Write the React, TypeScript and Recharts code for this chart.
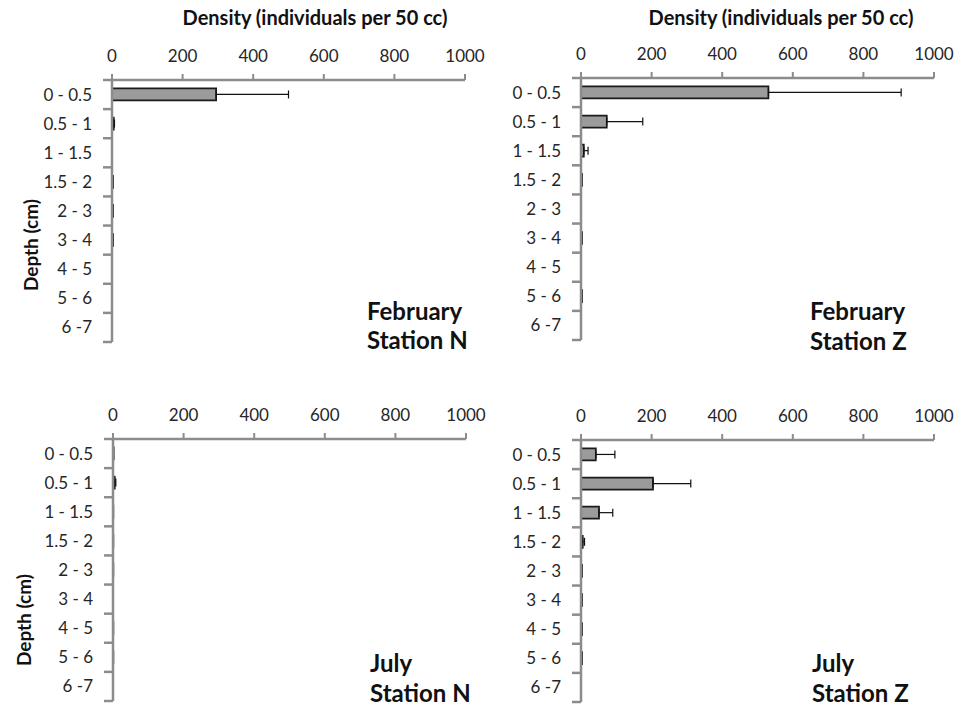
import React from "react";
import { BarChart, Bar, XAxis, YAxis, ErrorBar } from "recharts";

// ---- data ----
const depths = ["0 - 0.5", "0.5 - 1", "1 - 1.5", "1.5 - 2", "2 - 3", "3 - 4", "4 - 5", "5 - 6", "6 -7"];
const densityTicks = [0, 200, 400, 600, 800, 1000];

const febNValues = [295, 5, 0, 3, 3, 3, 0, 0, 0];
const febNErrors = [205, 2, 0, 0, 0, 0, 0, 0, 0];

const febZValues = [531, 73, 8, 3, 0, 3, 0, 3, 0];
const febZErrors = [376, 102, 12, 0, 0, 0, 0, 0, 0];

const julNValues = [2, 5, 1, 1, 1, 0, 1, 1, 0];
const julNErrors = [0, 3, 0, 0, 0, 0, 0, 0, 0];

const julZValues = [42, 204, 51, 5, 3, 3, 3, 3, 0];
const julZErrors = [54, 107, 39, 5, 0, 0, 0, 0, 0];

const axisTitle = "Density (individuals per 50 cc)";
const depthTitle = "Depth (cm)";

// ---- style ----
const FONT = "Lato, 'Open Sans', sans-serif";
const AXIS = "#8c8c8c";
const TEXT = "#262626";
const PLOT_W = 353;
const PLOT_H = 262;
const Y_W = 92;
const X_H = 40;
const Y_TICK_SIZE = 6;
const Y_TICK_MARGIN = 14;

function DepthTick(props: any) {
  const { x, y, payload, index } = props;
  const px = Number(x);
  const py = Number(y);
  const axisX = px + Y_TICK_SIZE + Y_TICK_MARGIN;
  const band = PLOT_H / depths.length;
  const top = py - band / 2;
  const bottom = py + band / 2;
  return (
    <g>
      <path d={`M${axisX - 9},${top}H${axisX}`} stroke={AXIS} strokeWidth={2.5} fill="none" />
      {index === depths.length - 1 ? (
        <path d={`M${axisX - 9},${bottom}H${axisX}`} stroke={AXIS} strokeWidth={2.5} fill="none" />
      ) : null}
      <text x={px} y={py} dy="0.35em" textAnchor="end" fill={TEXT} fontSize={17} fontFamily={FONT}>
        {payload.value}
      </text>
    </g>
  );
}

function Panel({ values, errors, left, top }: { values: number[]; errors: number[]; left: number; top: number }) {
  const rows = depths.map((d, i) => ({ depth: d, density: values[i], err: errors[i] }));
  return (
    <div style={{ position: "absolute", left, top }}>
      <BarChart
        width={Y_W + PLOT_W + 21}
        height={X_H + PLOT_H + 6}
        layout="vertical"
        data={rows}
        margin={{ top: 0, right: 21, bottom: 6, left: 0 }}
        barCategoryGap="29%"
        style={{ overflow: "visible" }}
      >
        <XAxis
          type="number"
          orientation="top"
          domain={[0, 1000]}
          ticks={densityTicks}
          interval={0}
          height={X_H}
          allowDataOverflow
          tick={{ fill: TEXT, fontSize: 17, fontFamily: FONT }}
          tickSize={6}
          tickMargin={12}
          axisLine={{ stroke: AXIS, strokeWidth: 2.5 }}
          tickLine={{ stroke: AXIS, strokeWidth: 2 }}
        />
        <YAxis
          type="category"
          dataKey="depth"
          width={Y_W}
          interval={0}
          tickSize={Y_TICK_SIZE}
          tickMargin={Y_TICK_MARGIN}
          tickLine={false}
          axisLine={{ stroke: AXIS, strokeWidth: 2.5 }}
          tick={(p: any) => <DepthTick {...p} />}
        />
        <Bar dataKey="density" fill="#9b9b9b" stroke="#1a1a1a" strokeWidth={1.7} isAnimationActive={false}>
          <ErrorBar
            dataKey={(r: any) => (r.err > 0 ? [0, r.err] : null)}
            direction="x"
            width={4}
            stroke="#111"
            strokeWidth={1.2}
            isAnimationActive={false}
          />
        </Bar>
      </BarChart>
    </div>
  );
}

const labelStyle = { fontFamily: FONT, fontWeight: 700, fill: "#111" } as const;

export default function App() {
  return (
    <div style={{ position: "absolute", left: 0, top: 0, width: 956, height: 708, overflow: "hidden", background: "#fff" }}>
      <Panel values={febNValues} errors={febNErrors} left={112 - Y_W} top={80 - X_H} />
      <Panel values={febZValues} errors={febZErrors} left={581 - Y_W} top={78 - X_H} />
      <Panel values={julNValues} errors={julNErrors} left={113 - Y_W} top={439 - X_H} />
      <Panel values={julZValues} errors={julZErrors} left={581 - Y_W} top={440 - X_H} />
      <svg width={956} height={708} style={{ position: "absolute", left: 0, top: 0, pointerEvents: "none" }}>
        <text x={315} y={25} textAnchor="middle" fontSize={20} {...labelStyle}>{axisTitle}</text>
        <text x={781} y={25} textAnchor="middle" fontSize={20} {...labelStyle}>{axisTitle}</text>
        <text x={31} y={245} dy="0.35em" textAnchor="middle" fontSize={19} transform="rotate(-90 31 245)" {...labelStyle}>{depthTitle}</text>
        <text x={24} y={620} dy="0.35em" textAnchor="middle" fontSize={19} transform="rotate(-90 24 620)" {...labelStyle}>{depthTitle}</text>

        <text x={367} y={320} fontSize={24} {...labelStyle}>February</text>
        <text x={367} y={349} fontSize={24} {...labelStyle}>Station N</text>
        <text x={810} y={320} fontSize={24} {...labelStyle}>February</text>
        <text x={810} y={350} fontSize={24} {...labelStyle}>Station Z</text>
        <text x={370} y={672} fontSize={24} {...labelStyle}>July</text>
        <text x={370} y={702} fontSize={24} {...labelStyle}>Station N</text>
        <text x={812} y={672} fontSize={24} {...labelStyle}>July</text>
        <text x={812} y={702} fontSize={24} {...labelStyle}>Station Z</text>
      </svg>
    </div>
  );
}
